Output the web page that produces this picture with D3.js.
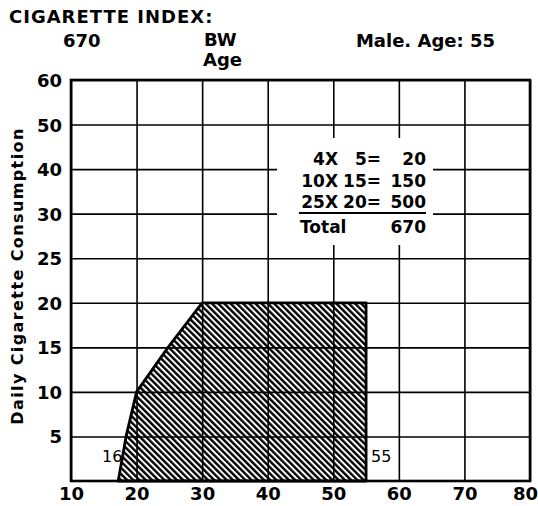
<!DOCTYPE html>
<html>
<head>
<meta charset="utf-8">
<script src="https://cdn.jsdelivr.net/npm/d3@7"></script>
<style>
  body { margin: 0; background: #fff; }
  svg { display: block; }
  text { font-family: "DejaVu Sans", sans-serif; fill: #000; }
</style>
</head>
<body>
<svg id="graphe" width="538" height="506"></svg>
<script>
// Données
const abscisses = [10, 20, 30, 40, 50, 60, 70, 80]
const ordonnees = [0, 5, 10, 15, 20, 25, 30, 40, 50, 60]
// Contour de la zone hachurée (âge, cigarettes par jour)
const contourAge = [17.2, 18.4, 20, 24.8, 30, 55, 55]
const contourConso = [0, 5, 10, 15, 20, 20, 0]
// Petit calcul de l'index
const nbAnnees = ["4X", "10X", "25X"]
const consoJour = ["5=", "15=", "20="]
const produits = ["20", "150", "500"]
const total = "670"

const svg = d3.select("#graphe")
const gauche = 71, haut = 80, droite = 530, bas = 481

const x = d3.scaleLinear().domain([10, 80]).range([gauche, droite])
// L'axe vertical n'est pas linéaire : chaque graduation a le même écart
const pas = (bas - haut) / (ordonnees.length - 1)
const y = d3.scaleLinear().domain(ordonnees).range(ordonnees.map((d, i) => bas - i * pas))

// Motif de hachures
const defs = svg.append("defs")
const motif = defs.append("pattern")
    .attr("id", "hachures")
    .attr("patternUnits", "userSpaceOnUse")
    .attr("width", 4.4)
    .attr("height", 10)
    .attr("patternTransform", "rotate(-45)")
motif.append("rect").attr("width", 4.4).attr("height", 10).attr("fill", "#fff")
motif.append("rect").attr("width", 2.4).attr("height", 10).attr("fill", "#000")

// Zone hachurée
const points = contourAge.map((a, i) => [x(a), y(contourConso[i])])
svg.append("path")
    .attr("d", d3.line()(points) + "Z")
    .attr("fill", "url(#hachures)")
    .attr("stroke", "#000")
    .attr("stroke-width", 2.8)
    .attr("stroke-linejoin", "round")

// Grille + graduations
const axeX = svg.append("g")
    .attr("transform", `translate(0,${bas})`)
    .call(d3.axisBottom(x).tickValues(abscisses).tickSize(-(bas - haut)).tickPadding(6).tickFormat(d3.format("d")))
const axeY = svg.append("g")
    .attr("transform", `translate(${gauche},0)`)
    .call(d3.axisLeft(y).tickValues(ordonnees.filter(d => d > 0)).tickSize(-(droite - gauche)).tickPadding(9).tickFormat(d3.format("d")))
svg.selectAll(".domain").remove()
svg.selectAll(".tick line").attr("stroke", "#000").attr("stroke-width", 1.6)
svg.selectAll(".tick text")
    .style("font-family", '"DejaVu Sans", sans-serif')
    .style("font-size", "18px")
    .style("font-weight", "bold")
    .attr("fill", "#000")
axeY.selectAll(".tick text").attr("dy", "0.36em")
// le 80 touche le bord droit : on le décale un peu
axeX.selectAll(".tick text").filter(d => d === 80).attr("x", -5)
// le cadre
svg.append("rect")
    .attr("x", gauche).attr("y", haut)
    .attr("width", droite - gauche).attr("height", bas - haut)
    .attr("fill", "none").attr("stroke", "#000").attr("stroke-width", 2.6)

// Encadré blanc du calcul
svg.append("rect")
    .attr("x", 277).attr("y", 138).attr("width", 156).attr("height", 107)
    .attr("fill", "#fff")
const lignes = [165, 187, 208]
const styleCalc = t => t.style("font-size", "17px").style("font-weight", "bold").attr("text-anchor", "end")
nbAnnees.forEach((n, i) => {
    svg.append("text").attr("x", 338).attr("y", lignes[i]).text(n).call(styleCalc)
    svg.append("text").attr("x", 381).attr("y", lignes[i]).text(consoJour[i]).call(styleCalc)
    svg.append("text").attr("x", 426).attr("y", lignes[i]).text(produits[i]).call(styleCalc)
})
svg.append("line")
    .attr("x1", 299).attr("x2", 426).attr("y1", 213).attr("y2", 213)
    .attr("stroke", "#000").attr("stroke-width", 2)
svg.append("text").attr("x", 300).attr("y", 233).text("Total")
    .style("font-size", "17px").style("font-weight", "bold")
svg.append("text").attr("x", 426).attr("y", 233).text(total).call(styleCalc)

// Âges de début et de fin
svg.append("text").attr("x", 102).attr("y", 462).text("16").style("font-size", "16px")
svg.append("text").attr("x", 371).attr("y", 462).text("55").style("font-size", "16px")

// Titres
const gras = t => t.style("font-weight", "bold").style("font-size", "18px")
svg.append("text").attr("x", 9).attr("y", 23).text("CIGARETTE INDEX:").call(gras).style("letter-spacing", "1px")
svg.append("text").attr("x", 63).attr("y", 47).text("670").call(gras)
svg.append("text").attr("x", 204).attr("y", 46).text("BW").call(gras)
svg.append("text").attr("x", 203).attr("y", 66).text("Age").call(gras)
svg.append("text").attr("x", 495).attr("y", 47).text("Male. Age: 55").call(gras).attr("text-anchor", "end")
svg.append("text")
    .attr("transform", "translate(23,276) rotate(-90)")
    .attr("text-anchor", "middle")
    .text("Daily Cigarette Consumption")
    .style("font-weight", "bold").style("font-size", "16px").style("letter-spacing", "1.4px")
</script>
</body>
</html>
